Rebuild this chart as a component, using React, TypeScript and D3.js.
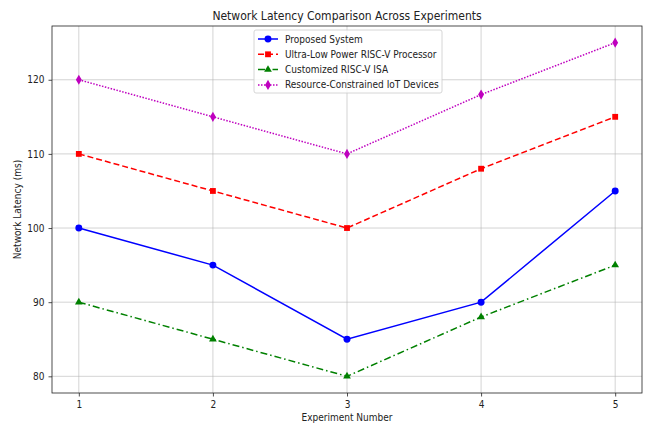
import React, { useEffect, useRef } from "react";
import * as d3 from "d3";

const experiments = [1, 2, 3, 4, 5];
const proposed = [100, 95, 85, 90, 105];
const ultraLow = [110, 105, 100, 108, 115];
const customized = [90, 85, 80, 88, 95];
const iotDevices = [120, 115, 110, 118, 125];
const yTicks = [80, 90, 100, 110, 120];

const series = [
  { name: "Proposed System", values: proposed, color: "#0000ff", dash: "", marker: "circle" },
  { name: "Ultra-Low Power RISC-V Processor", values: ultraLow, color: "#ff0000", dash: "6,3", marker: "square" },
  { name: "Customized RISC-V ISA", values: customized, color: "#008000", dash: "7,3,1.5,3", marker: "triangle" },
  { name: "Resource-Constrained IoT Devices", values: iotDevices, color: "#bf00bf", dash: "1.5,1.5", marker: "diamond" },
];

const App = () => {
  const ref = useRef<SVGSVGElement>(null);

  useEffect(() => {
    document.body.style.margin = "0";
    const svg = d3.select(ref.current);
    svg.selectAll("*").remove();

    const width = 645;
    const height = 428;
    const margin = { top: 26, right: 3, bottom: 35, left: 52 };
    const w = width - margin.left - margin.right;
    const h = height - margin.top - margin.bottom;
    const font = "'DejaVu Sans Condensed', 'DejaVu Sans', sans-serif";

    svg.attr("width", width).attr("height", height).style("display", "block");
    svg.append("rect").attr("width", width).attr("height", height).attr("fill", "white");

    const g = svg.append("g").attr("transform", `translate(${margin.left},${margin.top})`);

    const x = d3.scaleLinear().domain([0.8, 5.2]).range([0, w]);
    const y = d3.scaleLinear().domain([77.75, 127.25]).range([h, 0]);

    // grid
    g.append("g")
      .selectAll("line")
      .data(experiments)
      .join("line")
      .attr("x1", (d) => x(d))
      .attr("x2", (d) => x(d))
      .attr("y1", 0)
      .attr("y2", h)
      .attr("stroke", "#b0b0b0")
      .attr("stroke-opacity", 0.7)
      .attr("stroke-width", 0.8);
    g.append("g")
      .selectAll("line")
      .data(yTicks)
      .join("line")
      .attr("x1", 0)
      .attr("x2", w)
      .attr("y1", (d) => y(d))
      .attr("y2", (d) => y(d))
      .attr("stroke", "#b0b0b0")
      .attr("stroke-opacity", 0.7)
      .attr("stroke-width", 0.8);

    // axes
    const xAxis = g
      .append("g")
      .attr("transform", `translate(0,${h})`)
      .call(d3.axisBottom(x).tickValues(experiments).tickFormat(d3.format("d")).tickSize(3.5).tickPadding(4));
    const yAxis = g
      .append("g")
      .call(d3.axisLeft(y).tickValues(yTicks).tickSize(3.5).tickPadding(4));
    [xAxis, yAxis].forEach((a) => {
      a.select(".domain").remove();
      a.selectAll("text").style("font-family", font).style("font-size", "10px").attr("fill", "#222");
      a.selectAll("line").attr("stroke", "#222").attr("stroke-width", 0.8);
    });

    // lines
    const line = d3
      .line<number>()
      .x((_, i) => x(experiments[i]))
      .y((d) => y(d));

    const symbolFor = (m: string) =>
      m === "circle"
        ? d3.symbol(d3.symbolCircle, 38)
        : m === "square"
        ? d3.symbol(d3.symbolSquare, 34)
        : m === "triangle"
        ? d3.symbol(d3.symbolTriangle, 26)
        : d3.symbol(d3.symbolDiamond, 30);

    series.forEach((s) => {
      g.append("path")
        .datum(s.values)
        .attr("fill", "none")
        .attr("stroke", s.color)
        .attr("stroke-width", 1.5)
        .attr("stroke-dasharray", s.dash)
        .attr("d", line);
      g.append("g")
        .selectAll("path")
        .data(s.values)
        .join("path")
        .attr("transform", (d, i) => `translate(${x(experiments[i])},${y(d)})`)
        .attr("d", symbolFor(s.marker)())
        .attr("fill", s.color);
    });

    // frame
    g.append("rect")
      .attr("width", w)
      .attr("height", h)
      .attr("fill", "none")
      .attr("stroke", "#222")
      .attr("stroke-width", 0.8);

    // title & labels
    svg.append("text")
      .attr("x", margin.left + w / 2)
      .attr("y", 20)
      .attr("text-anchor", "middle")
      .style("font-family", font)
      .style("font-size", "12px")
      .attr("fill", "#222")
      .text("Network Latency Comparison Across Experiments");
    svg.append("text")
      .attr("x", margin.left + w / 2)
      .attr("y", 421)
      .attr("text-anchor", "middle")
      .style("font-family", font)
      .style("font-size", "10px")
      .attr("fill", "#222")
      .text("Experiment Number");
    svg.append("text")
      .attr("transform", `translate(21,${margin.top + h / 2}) rotate(-90)`)
      .attr("text-anchor", "middle")
      .style("font-family", font)
      .style("font-size", "10px")
      .attr("fill", "#222")
      .text("Network Latency (ms)");

    // legend
    const lg = svg.append("g").attr("transform", "translate(254,30)");
    lg.append("rect")
      .attr("width", 188)
      .attr("height", 63)
      .attr("rx", 2)
      .attr("fill", "white")
      .attr("fill-opacity", 0.8)
      .attr("stroke", "#ccc")
      .attr("stroke-width", 0.8);
    series.forEach((s, i) => {
      const row = lg.append("g").attr("transform", `translate(0,${9 + i * 15.3})`);
      row.append("line")
        .attr("x1", 4)
        .attr("x2", 24)
        .attr("stroke", s.color)
        .attr("stroke-width", 1.5)
        .attr("stroke-dasharray", s.dash);
      row.append("path")
        .attr("transform", "translate(14,0)")
        .attr("d", symbolFor(s.marker)())
        .attr("fill", s.color);
      row.append("text")
        .attr("x", 31)
        .attr("dy", "0.35em")
        .style("font-family", font)
        .style("font-size", "10px")
        .attr("fill", "#222")
        .text(s.name);
    });
  }, []);

  return <svg ref={ref} />;
};

export default App;
